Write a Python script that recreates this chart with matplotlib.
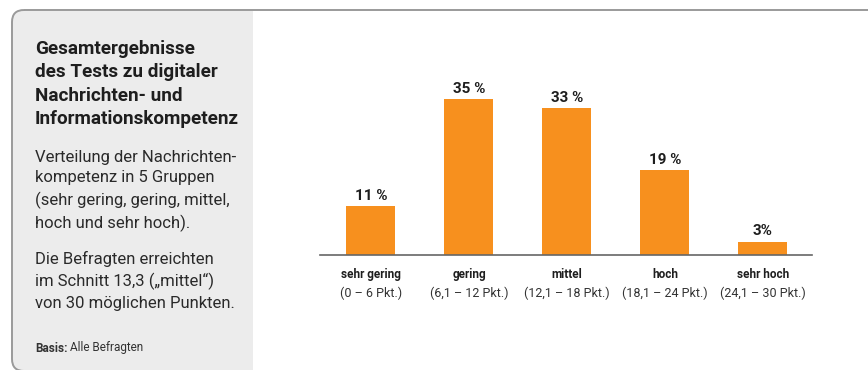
import matplotlib
matplotlib.use("Agg")
import matplotlib.pyplot as plt
from matplotlib.patches import FancyBboxPatch, Rectangle

# data
groups = ["sehr gering", "gering", "mittel", "hoch", "sehr hoch"]
ranges = ["(0 – 6 Pkt.)", "(6,1 – 12 Pkt.)", "(12,1 – 18 Pkt.)", "(18,1 – 24 Pkt.)", "(24,1 – 30 Pkt.)"]
shares = [11, 35, 33, 19, 3]
share_labels = ["11 %", "35 %", "33 %", "19 %", "3%"]

title = "Gesamtergebnisse\ndes Tests zu digitaler\nNachrichten- und\nInformationskompetenz"
desc1 = "Verteilung der Nachrichten-\nkompetenz in 5 Gruppen\n(sehr gering, gering, mittel,\nhoch und sehr hoch)."
desc2 = "Die Befragten erreichten\nim Schnitt 13,3 („mittel“)\nvon 30 möglichen Punkten."

ORANGE = "#F7901E"
TXT = "#1e1e1e"
plt.rcParams["font.family"] = ["Roboto", "DejaVu Sans"]

W, H = 868, 370
fig = plt.figure(figsize=(W / 100, H / 100), dpi=100)

# background frame in pixel units
bg = fig.add_axes([0, 0, 1, 1], zorder=-1)
bg.set_xlim(0, W)
bg.set_ylim(H, 0)
bg.axis("off")
bg.add_patch(FancyBboxPatch((12, 10), 1000, 361, boxstyle="round,pad=0,rounding_size=12",
                            facecolor="#ececec", edgecolor="none"))
bg.add_patch(Rectangle((253, 11), 700, 362, facecolor="white", edgecolor="none"))
bg.add_patch(FancyBboxPatch((12, 10), 1000, 361, boxstyle="round,pad=0,rounding_size=12",
                            facecolor="none", edgecolor="#9a9a9a", linewidth=1.4))

def px(x, y):
    return x / W, 1 - y / H

fig.text(*px(35, 40), title, fontsize=13.6, fontweight="bold", color=TXT,
         va="top", ha="left", linespacing=1.38)
fig.text(*px(35, 150), desc1, fontsize=12, color="#2a2a2a", va="top", ha="left", linespacing=1.45)
fig.text(*px(35, 251), desc2, fontsize=12, color="#2a2a2a", va="top", ha="left", linespacing=1.45)
fig.text(*px(35, 348), "Basis:", fontsize=8.5, fontweight="bold", color="#333333", va="center", ha="left")
fig.text(*px(70, 348), "Alle Befragten", fontsize=8.5, color="#333333", va="center", ha="left")

# bar chart
left, right = 320, 812
top, base = 60, 255
ax = fig.add_axes([left / W, (H - base) / H, (right - left) / W, (base - top) / H])
x = range(len(groups))
ax.bar(x, shares, width=0.5, color=ORANGE)
ax.set_xlim(-0.52, 4.5)
ax.set_ylim(0, (base - top) / 4.45)
for xi, v, lab in zip(x, shares, share_labels):
    ax.annotate(lab, (xi, v), xytext=(0, 2.5), textcoords="offset points",
                ha="center", va="bottom", fontsize=11, fontweight="bold", color=TXT)
for s in ["top", "right", "left"]:
    ax.spines[s].set_visible(False)
ax.spines["bottom"].set_color("#666666")
ax.spines["bottom"].set_linewidth(1.2)
ax.set_yticks([])
ax.set_xticks([])
for xi, g, r in zip(x, groups, ranges):
    ax.annotate(g, (xi, 0), xytext=(0, -14), textcoords="offset points",
                ha="center", va="center", fontsize=8.5, fontweight="bold", color=TXT)
    ax.annotate(r, (xi, 0), xytext=(0, -27.5), textcoords="offset points",
                ha="center", va="center", fontsize=9, color="#333333")

fig.savefig("out.png", dpi=100)
